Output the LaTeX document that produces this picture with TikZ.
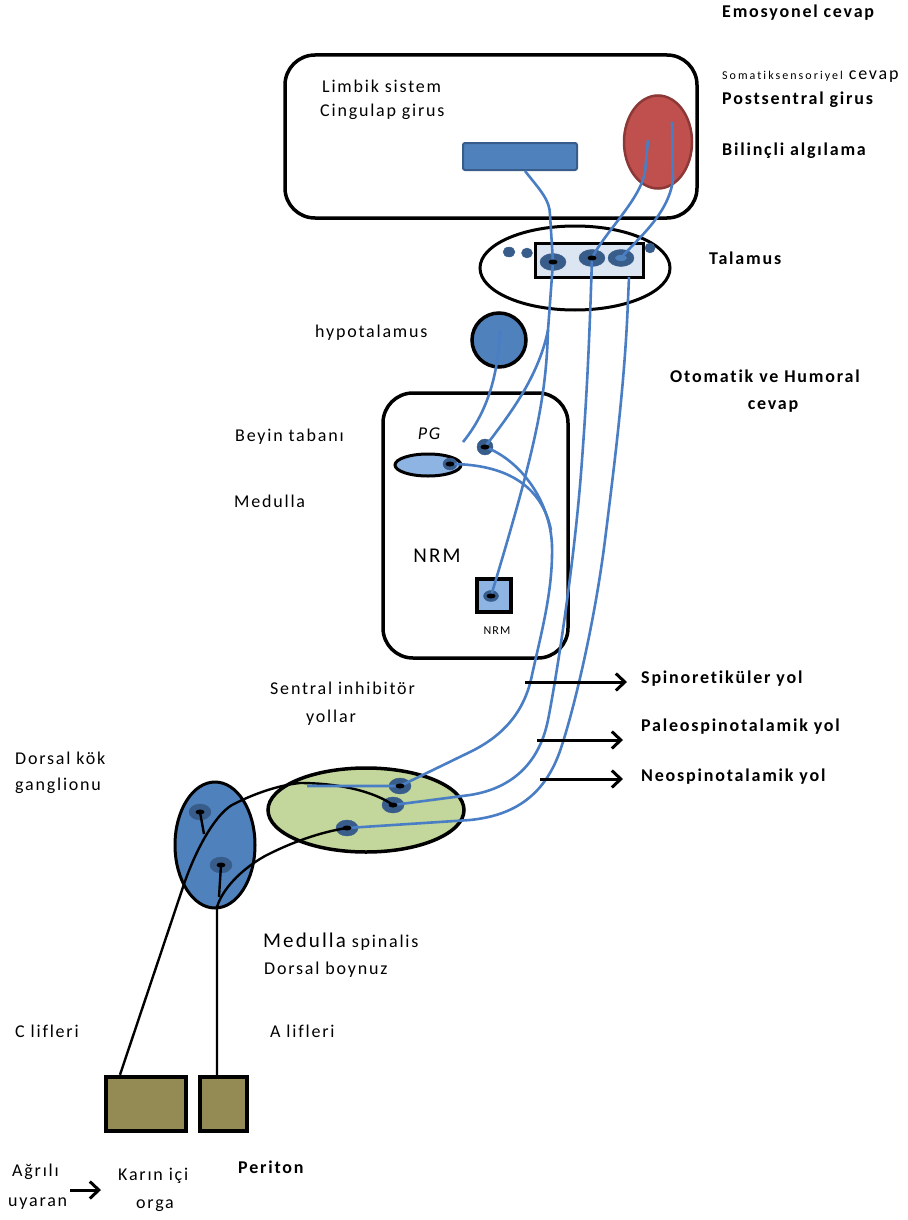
\documentclass[tikz,border=0pt]{standalone}
\usepackage{fontspec}
\setmainfont{Carlito}
\newfontfamily\lf[LetterSpace=10,Ligatures=NoCommon]{Carlito}
\newfontfamily\lfw[LetterSpace=17,Ligatures=NoCommon]{Carlito}
\usetikzlibrary{shapes.geometric,arrows.meta}
\definecolor{mblue}{HTML}{4F81BD}
\definecolor{dblue}{HTML}{385D8A}
\definecolor{lblue}{HTML}{8EB4E3}
\definecolor{pblue}{HTML}{DCE6F2}
\definecolor{rred}{HTML}{C0504D}
\definecolor{dred}{HTML}{8C3836}
\definecolor{lgreen}{HTML}{C3D69B}
\definecolor{olive}{HTML}{948A54}
\definecolor{fib}{HTML}{4A7EC4}
\begin{document}
\begin{tikzpicture}[x=1pt,y=-1pt,
  lab/.style={anchor=west, inner sep=0pt, font=\lf\fontsize{18}{20}\selectfont},
  labb/.style={anchor=west, inner sep=0pt, font=\lf\bfseries\fontsize{18}{20}\selectfont},
  labc/.style={anchor=center, inner sep=0pt, font=\lf\fontsize{18}{20}\selectfont},
  bigbox/.style={draw, line width=3.5pt, rounded corners=30pt},
  fiber/.style={draw=fib, line width=2.6pt},
  nerve/.style={draw=black, line width=2.4pt},
  arr/.style={line width=3pt, -{Straight Barb[length=9pt,width=17pt,line width=3pt]}},
  nout/.style={ellipse, fill=dblue, draw=dblue, minimum width=22pt, minimum height=16pt, inner sep=0pt},
  nin/.style={ellipse, fill=black, minimum width=9pt, minimum height=5pt, inner sep=0pt},
  organbox/.style={draw, line width=4.5pt, fill=olive, inner sep=0pt}
]
\useasboundingbox (0,0) rectangle (907,1220);

% ---------- shapes ----------
\node[bigbox, minimum width=412pt, minimum height=163pt] (limb) at (491,136.5) {};
\node[draw=dblue, fill=mblue, line width=2pt, rounded corners=2pt, minimum width=114pt, minimum height=27pt, inner sep=0pt] (cing) at (520,156.5) {};
\node[ellipse, draw=dred, fill=rred, line width=2.5pt, minimum width=68pt, minimum height=93pt, inner sep=0pt] (post) at (658,142) {};

\node[ellipse, draw, line width=3pt, minimum width=190pt, minimum height=84pt, inner sep=0pt] (thal) at (575,268) {};
\node[draw, fill=pblue, line width=3pt, minimum width=108pt, minimum height=34pt, inner sep=0pt] (tbox) at (589,260) {};

\node[circle, draw, fill=mblue, line width=3.5pt, minimum size=54pt, inner sep=0pt] (hypo) at (499,340) {};

\node[bigbox, minimum width=185pt, minimum height=265pt] (bs) at (475.5,525.5) {};
\node[ellipse, draw, fill=lblue, line width=3pt, minimum width=66pt, minimum height=22pt, inner sep=0pt] (pg) at (428,465) {};
\node[draw, fill=lblue, line width=3.5pt, minimum width=34pt, minimum height=33pt, inner sep=0pt] (nrmb) at (494,595.5) {};

\node[ellipse, draw, fill=lgreen, line width=3.5pt, minimum width=196pt, minimum height=84pt, inner sep=0pt] (dh) at (366,810) {};
\node[ellipse, draw, fill=mblue, line width=3pt, minimum width=80pt, minimum height=126pt, inner sep=0pt] (drg) at (215,845) {};

\node[organbox, minimum width=80pt, minimum height=54pt] (organ) at (146,1104) {};
\node[organbox, minimum width=47pt, minimum height=54pt] (perit) at (223.5,1104) {};

% ---------- named points ----------
\node[nout] (g1) at (400,786) {};
\node[nout] (g2) at (393,805) {};
\node[nout] (g3) at (347,828) {};
\node[nout] (k1) at (200,812) {};
\node[nout] (k2) at (221,865) {};
\node[nout, minimum width=26pt, minimum height=17pt] (td1) at (553,262) {};
\node[nout, minimum width=26pt, minimum height=17pt] (td2) at (592,258) {};
\node[nout, minimum width=26pt, minimum height=17pt] (td3) at (621,258) {};
\node[nout, minimum width=16pt, minimum height=16pt] (rd) at (485,447) {};
\node[nout, minimum width=14pt, minimum height=12pt] (pgd) at (450,464) {};
\node[nout, minimum width=15pt, minimum height=11pt] (nrmd) at (491,596) {};
\coordinate (nend) at (629,277);
\coordinate (cingout) at (525,171);
\coordinate (p1) at (648,140);
\coordinate (p2) at (672,122);
\coordinate (hy) at (500,330);
\coordinate (hyend) at (463,442);
\coordinate (split) at (548,330);
\coordinate (inhend) at (307,786);

% ---------- nerves (black) ----------
\draw[nerve] (organ.north -| 120,0) -- (182,890) .. controls (195,850) and (215,815) .. (232,805)
  .. controls (255,793) and (280,785) .. (300,783) .. controls (340,783) and (375,792) .. (g2.center);
\draw[nerve] (perit.north -| 217,0) -- (217,907) .. controls (222,890) and (240,870) .. (265,856)
  .. controls (290,843) and (320,832) .. (g3.center);
\draw[nerve] (k1.center) -- (204,834);
\draw[nerve] (k2.center) -- (219,897);

% ---------- fibers (blue) ----------
\draw[fiber] (cingout) .. controls (540,190) and (550,200) .. (550,215) -- (td1.center);
\draw[fiber] (td1.center) -- (split) .. controls (546,400) and (535,450) .. (nrmd.center);
\draw[fiber] (split) .. controls (538,380) and (505,420) .. (rd.center);
\draw[fiber] (hy) .. controls (498,380) and (485,415) .. (hyend);
\draw[fiber] (p1) -- (645,172) .. controls (640,200) and (605,232) .. (td2.center);
\draw[fiber] (p2) -- (673,180) .. controls (668,215) and (638,238) .. (td3.center);
\draw[fiber] (inhend) -- (g1.center) -- (470,752) .. controls (505,735) and (525,710) .. (532,675)
  .. controls (542,630) and (553,590) .. (552,545) .. controls (550,500) and (520,460) .. (rd.center);
\draw[fiber] (pgd.center) .. controls (495,464) and (540,478) .. (551,530);
\draw[fiber] (g2.center) -- (470,795) .. controls (515,788) and (540,760) .. (548,720)
  .. controls (556,680) and (575,560) .. (582,460) .. controls (588,380) and (590,320) .. (td2.center);
\draw[fiber] (g3.center) -- (470,820) .. controls (520,815) and (548,790) .. (562,745)
  .. controls (575,705) and (595,620) .. (605,540) .. controls (615,460) and (625,380) .. (628,300) -- (nend);

% ---------- dots on top ----------
\foreach \n in {g1,g2,g3,k1,k2,td1,td2,rd,pgd,nrmd}{\node[nin] at (\n) {};}
\node[ellipse, fill=mblue, minimum width=12pt, minimum height=6pt, inner sep=0pt] (td3i) at (td3) {};
\node[nout, minimum width=12pt, minimum height=10pt] (ex1) at (509,252) {};
\node[nout, minimum width=11pt, minimum height=10pt] (ex2) at (527,253) {};
\node[nout, minimum width=10pt, minimum height=10pt] (ex3) at (650,248) {};

% ---------- arrows ----------
\coordinate (a1s) at (525,682); \coordinate (a1e) at (627,682);
\coordinate (a2s) at (537,740); \coordinate (a2e) at (623,740);
\coordinate (a3s) at (540,779); \coordinate (a3e) at (623,779);
\coordinate (a4s) at (70,1190); \coordinate (a4e) at (101,1190);
\draw[arr] (a1s) -- (a1e);
\draw[arr] (a2s) -- (a2e);
\draw[arr] (a3s) -- (a3e);
\draw[arr] (a4s) -- (a4e);

% ---------- labels ----------
\node[labb] (t1) at (722,13) {Emosyonel cevap};
\node[lab] (t2) at (722,77) {{\lfw\fontsize{12}{13}\selectfont Somatiksensoriyel} cevap};
\node[labb] (t3) at (722,100) {Postsentral girus};
\node[labb] (t4) at (722,151) {Bilinçli algılama};
\node[lab] (t5) at (322,86) {Limbik sistem};
\node[lab] (t6) at (320,112) {Cingulap girus};
\node[labb] (t7) at (709,258) {Talamus};
\node[lab] (t8) at (315,333) {hypotalamus};
\node[labb] (t9) at (670,376) {Otomatik ve Humoral};
\node[labc, font=\lf\bfseries\fontsize{18}{20}\selectfont] (t10) at (773,406) {cevap};
\node[lab] (t11) at (235,437) {Beyin tabanı};
\node[labc, font=\lf\itshape\fontsize{18}{20}\selectfont] (t12) at (429,434) {PG};
\node[lab] (t13) at (234,501) {Medulla};
\node[labc, font=\lf\fontsize{21}{23}\selectfont] (t14) at (437,556) {NRM};
\node[labc, font=\lf\fontsize{12}{14}\selectfont] (t15) at (497,631) {NRM};
\node[lab] (t16) at (270,688) {Sentral inhibitör};
\node[labc] (t17) at (331,718) {yollar};
\node[labb] (t18) at (641,679) {Spinoretiküler yol};
\node[labb] (t19) at (641,727) {Paleospinotalamik yol};
\node[labb] (t20) at (641,777) {Neospinotalamik yol};
\node[lab] (t21) at (15,758) {Dorsal kök};
\node[lab] (t22) at (15,786) {ganglionu};
\node[lab] (t23) at (263,942) {{\fontsize{21}{23}\selectfont Medulla} spinalis};
\node[lab] (t24) at (264,970) {Dorsal boynuz};
\node[lab] (t25) at (15,1031) {C lifleri};
\node[lab] (t26) at (270,1031) {A lifleri};
\node[labb] (t27) at (238,1167) {Periton};
\node[lab] (t28) at (12,1172) {Ağrılı};
\node[lab] (t29) at (8,1204) {uyaran};
\node[lab] (t30) at (118,1176) {Karın içi};
\node[labc] (t31) at (155,1206) {orga};
\end{tikzpicture}
\end{document}
